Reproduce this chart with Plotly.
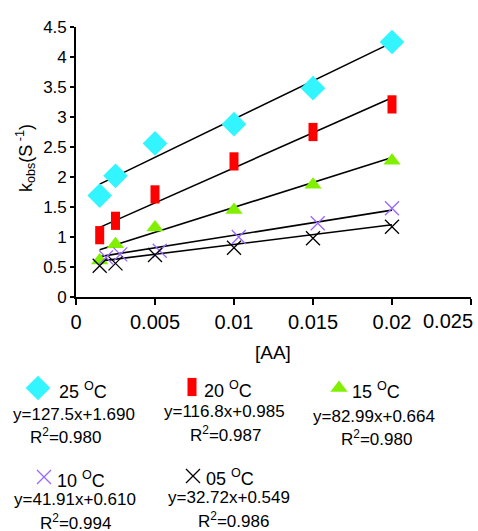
import plotly.graph_objects as go

# ---- data ----
conc = [0.0015, 0.0025, 0.005, 0.01, 0.015, 0.02]
conc_10 = [0.0019, 0.0028, 0.0053, 0.0103, 0.0153, 0.0200]
k25 = [1.69, 2.02, 2.56, 2.88, 3.48, 4.25]
k20 = [1.03, 1.27, 1.71, 2.26, 2.75, 3.21]
k15 = [0.61, 0.88, 1.16, 1.45, 1.87, 2.27]
k10 = [0.66, 0.71, 0.77, 1.00, 1.23, 1.48]
k05 = [0.52, 0.56, 0.70, 0.82, 0.98, 1.17]
temps = ["25", "20", "15", "10", "05"]
slopes = [127.5, 116.8, 82.99, 41.91, 32.72]
intercepts = [1.690, 0.985, 0.664, 0.610, 0.549]
r2 = [0.980, 0.987, 0.980, 0.994, 0.986]
eq_text = ["y=127.5x+1.690", "y=116.8x+0.985", "y=82.99x+0.664", "y=41.91x+0.610", "y=32.72x+0.549"]
x_ticks = [0, 0.005, 0.01, 0.015, 0.02, 0.025]
x_ticklabels = ["0", "0.005", "0.01", "0.015", "0.02", "0.025"]
y_ticks = [0, 0.5, 1, 1.5, 2, 2.5, 3, 3.5, 4, 4.5]
y_ticklabels = ["0", "0.5", "1", "1.5", "2", "2.5", "3", "3.5", "4", "4.5"]

W, H = 478, 531
FONT = "Liberation Sans, Arial"

series = [
    (conc, k25, dict(symbol="diamond", size=19, color="#33F5FF")),
    (conc, k20, dict(symbol="line-ns", size=13, color="#FF0000", line=dict(width=9, color="#FF0000"))),
    (conc, k15, dict(symbol="triangle-up", size=15, color="#80F000")),
    (conc_10, k10, dict(symbol="x-thin", size=14, color="#9966FF", line=dict(width=1.3, color="#9966FF"))),
    (conc, k05, dict(symbol="x-thin", size=14, color="#000000", line=dict(width=1.3, color="#000000"))),
]

fig = go.Figure()

# trend lines
for i in range(5):
    xs = [conc[0], conc[-1]]
    ys = [slopes[i] * x + intercepts[i] for x in xs]
    fig.add_trace(go.Scatter(x=xs, y=ys, mode="lines", line=dict(color="black", width=1.6),
                             showlegend=False, hoverinfo="skip"))

for xs, ys, mk in series:
    fig.add_trace(go.Scatter(x=xs, y=ys, mode="markers", marker=mk, showlegend=False))

# ---- custom legend (pixel coordinates on an overlay axis) ----
leg_marker_pos = [(38, 388), (192, 387), (339, 388), (44, 477), (193, 476)]
leg_label_pos = [(83, 390), (228, 389), (376, 390), (81, 479), (230, 477)]
leg_eq_pos = [(74, 414), (224, 411), (374, 416), (75, 499), (229, 497)]
leg_r2_pos = [(65, 436), (225, 434), (376, 438), (75, 522), (233, 520)]

for i, (xs, ys, mk) in enumerate(series):
    mx, my = leg_marker_pos[i]
    fig.add_trace(go.Scatter(x=[mx], y=[my], xaxis="x2", yaxis="y2", mode="markers",
                             marker=mk, showlegend=False, hoverinfo="skip"))

annotations = []
for i in range(5):
    lx, ly = leg_label_pos[i]
    annotations.append(dict(x=lx, y=ly, xref="x2", yref="y2", showarrow=False,
                            text=temps[i] + " <sup>O</sup>C", font=dict(size=18)))
    ex, ey = leg_eq_pos[i]
    annotations.append(dict(x=ex, y=ey, xref="x2", yref="y2", showarrow=False,
                            text=eq_text[i], font=dict(size=17)))
    rx, ry = leg_r2_pos[i]
    annotations.append(dict(x=rx, y=ry, xref="x2", yref="y2", showarrow=False,
                            text="R<sup>2</sup>=%.3f" % r2[i], font=dict(size=17)))

annotations.append(dict(x=273, y=352, xref="x2", yref="y2", showarrow=False,
                        text="[AA]", font=dict(size=19)))
annotations.append(dict(x=25, y=158, xref="x2", yref="y2", showarrow=False, textangle=-90,
                        text="k<sub>obs</sub>(S<sup> -1</sup>)", font=dict(size=18)))
# last x tick label is shifted left to stay inside the picture
annotations.append(dict(x=448, y=321, xref="x2", yref="y2", showarrow=False,
                        text=x_ticklabels[-1], font=dict(size=20)))

x0, x1 = 76, 471
y0, y1 = 27, 297

fig.update_layout(
    width=W, height=H,
    margin=dict(l=0, r=0, t=0, b=0, autoexpand=False),
    paper_bgcolor="white", plot_bgcolor="rgba(0,0,0,0)",
    font=dict(family=FONT, color="black", size=17),
    showlegend=False,
    xaxis=dict(domain=[x0 / W, x1 / W], range=[0, 0.025], tickvals=x_ticks,
               ticktext=x_ticklabels[:-1] + [""],
               showgrid=False, zeroline=False, showline=True, linecolor="black", linewidth=1.6,
               ticks="outside", ticklen=6, tickwidth=1.6, tickcolor="black", anchor="y",
               tickfont=dict(size=20), automargin=False),
    yaxis=dict(domain=[1 - y1 / H, 1 - y0 / H], range=[0, 4.5], tickvals=y_ticks, ticktext=y_ticklabels,
               showgrid=False, zeroline=False, showline=True, linecolor="black", linewidth=1.6,
               ticks="outside", ticklen=4, tickwidth=1.6, tickcolor="black", anchor="x",
               tickfont=dict(size=17), automargin=False),
    xaxis2=dict(domain=[0, 1], range=[0, W], visible=False, anchor="y2", automargin=False),
    yaxis2=dict(domain=[0, 1], range=[H, 0], visible=False, anchor="x2", automargin=False),
    annotations=annotations,
)

fig.write_html("out.html", config={"displayModeBar": False},
               post_script="document.body.style.margin='0px';")
